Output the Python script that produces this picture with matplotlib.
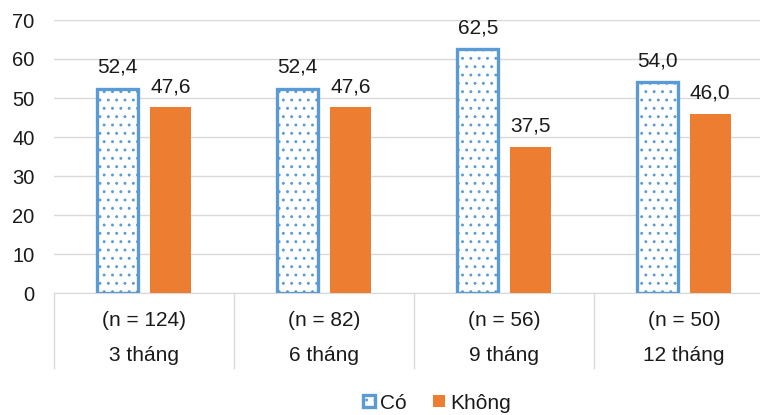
import numpy as np
import matplotlib.pyplot as plt
from matplotlib.patches import Patch

categories = ['3 tháng', '6 tháng', '9 tháng', '12 tháng']
n_labels = ['(n = 124)', '(n = 82)', '(n = 56)', '(n = 50)']
co = [52.4, 52.4, 62.5, 54.0]
khong = [47.6, 47.6, 37.5, 46.0]

plt.rcParams['font.family'] = ['Liberation Sans', 'DejaVu Sans']
plt.rcParams['hatch.linewidth'] = 0.9

blue = '#5B9BD5'
orange = '#ED7D31'
txt = '#1a1a1a'
fs = 15

fig = plt.figure(figsize=(7.6, 4.15), dpi=100)
# right edge of the plot area is cut off by the image border
ax = fig.add_axes([54 / 760, 1 - 293 / 415, 720 / 760, 273 / 415])

x = np.arange(len(categories))
w = 0.225
off = 0.146
b1 = ax.bar(x - off, co, w, facecolor='white', edgecolor=blue, linewidth=2.4,
            hatch='..', zorder=3)
b2 = ax.bar(x + off, khong, w, color=orange, zorder=3)

for i in range(len(x)):
    ax.text(x[i] - off, co[i] + 3.0, f'{co[i]:.1f}'.replace('.', ','),
            ha='center', va='bottom', fontsize=fs, color=txt)
    ax.text(x[i] + off, khong[i] + 2.8, f'{khong[i]:.1f}'.replace('.', ','),
            ha='center', va='bottom', fontsize=fs, color=txt)
    ax.text(x[i], -7.0, n_labels[i], ha='center', va='center', fontsize=fs, color=txt)
    ax.text(x[i], -16.0, categories[i], ha='center', va='center', fontsize=fs, color=txt)

# category separators below the axis
for xs in np.arange(-0.5, len(x) - 0.4, 1.0):
    ax.plot([xs, xs], [0, -19.3], color='#D9D9D9', lw=1.0, clip_on=False, zorder=1)

ax.set_xlim(-0.5, len(x) - 0.5)
ax.set_ylim(0, 70)
ax.set_yticks(range(0, 71, 10))
ax.set_xticks([])
ax.yaxis.grid(True, color='#D9D9D9', lw=1.0, zorder=0)
ax.tick_params(axis='y', length=0, pad=14, labelsize=14.5, labelcolor=txt)
for s in ['top', 'right', 'left']:
    ax.spines[s].set_visible(False)
ax.spines['bottom'].set_color('#D9D9D9')

handles = [Patch(facecolor='white', edgecolor=blue, linewidth=2.4, hatch='..'),
           Patch(facecolor=orange)]
fig.legend(handles, ['Có', 'Không'], loc='center', bbox_to_anchor=(437 / 760, 1 - 403 / 415),
           ncol=2, frameon=False, fontsize=fs, handlelength=0.55, handleheight=0.55,
           handletextpad=0.25, columnspacing=1.3, labelcolor=txt)

fig.savefig('out.png', dpi=100)
